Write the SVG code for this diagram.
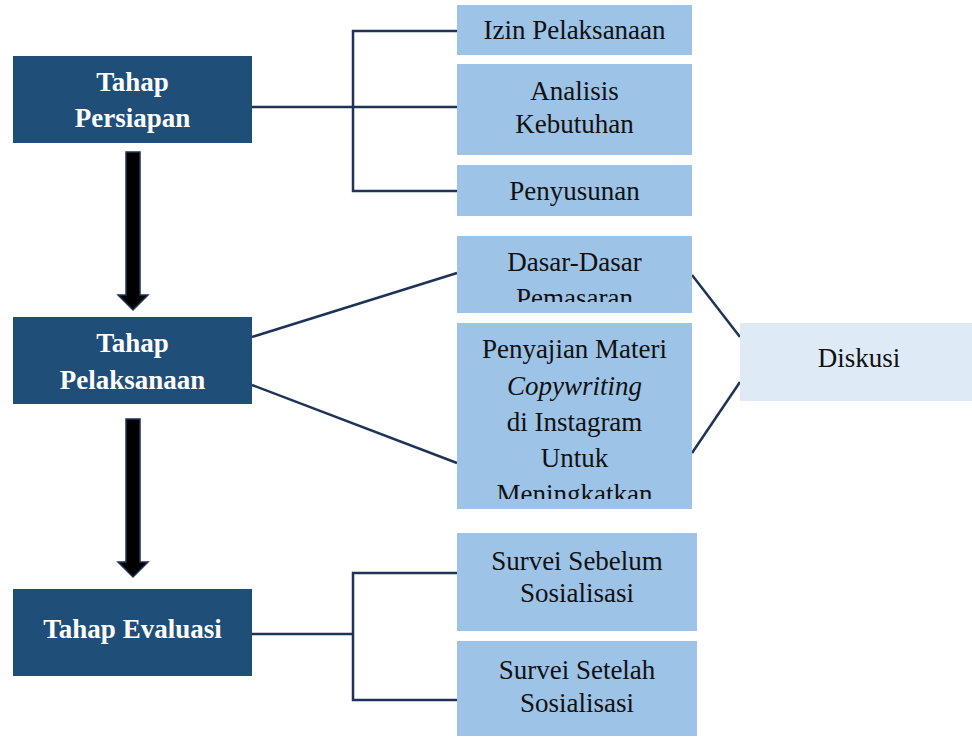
<svg xmlns="http://www.w3.org/2000/svg" width="972" height="738" viewBox="0 0 972 738">
<style>
.dark{fill:#1F4E79}
.light{fill:#9DC3E6}
.pale{fill:#DEEBF7}
.tw{font-family:"Liberation Serif","Times New Roman",serif;font-size:27px;font-weight:bold;fill:#ffffff;text-anchor:middle}
.tb{font-family:"Liberation Serif","Times New Roman",serif;font-size:27px;fill:#111111;text-anchor:middle}
.ln{fill:none;stroke:#1F3356;stroke-width:2.5}
.arr{fill:#000000;stroke:#1F3356;stroke-width:1.5}
</style>
<defs>
<clipPath id="cDasar"><rect x="457" y="236" width="235" height="66"/></clipPath>
<clipPath id="cPeny"><rect x="457" y="323" width="235" height="176"/></clipPath>
</defs>
<rect width="972" height="738" fill="#ffffff"/>
<g id="connectors">
<polyline class="ln" points="252,107 457,107"/>
<polyline class="ln" points="457,31 353,31 353,191 457,191"/>
<line class="ln" x1="252" y1="337" x2="457" y2="273"/>
<line class="ln" x1="252" y1="385" x2="457" y2="463"/>
<line class="ln" x1="692" y1="275" x2="740" y2="337"/>
<line class="ln" x1="692" y1="453" x2="740" y2="382"/>
<polyline class="ln" points="252,634 353,634"/>
<polyline class="ln" points="457,573 353,573 353,700 457,700"/>
<polygon class="arr" points="126,152 140,152 140,295 148,295 133,310 118,295 126,295"/>
<polygon class="arr" points="126,419 140,419 140,562 148,562 133,577 118,562 126,562"/>
</g>
<g id="tahap-persiapan">
<rect class="dark" x="13" y="56" width="239" height="87"/>
<text class="tw" x="132.5" y="91">Tahap</text>
<text class="tw" x="132.5" y="127">Persiapan</text>
</g>
<g id="tahap-pelaksanaan">
<rect class="dark" x="13" y="317" width="239" height="87"/>
<text class="tw" x="132.5" y="352">Tahap</text>
<text class="tw" x="132.5" y="389">Pelaksanaan</text>
</g>
<g id="tahap-evaluasi">
<rect class="dark" x="13" y="589" width="239" height="87"/>
<text class="tw" x="132.5" y="638">Tahap Evaluasi</text>
</g>
<g id="izin">
<rect class="light" x="457" y="5" width="235" height="50"/>
<text class="tb" x="574.5" y="39">Izin Pelaksanaan</text>
</g>
<g id="analisis">
<rect class="light" x="457" y="64" width="235" height="91"/>
<text class="tb" x="574.5" y="100">Analisis</text>
<text class="tb" x="574.5" y="133">Kebutuhan</text>
</g>
<g id="penyusunan">
<rect class="light" x="457" y="165" width="235" height="51"/>
<text class="tb" x="574.5" y="200">Penyusunan</text>
</g>
<g id="dasar">
<rect class="light" x="457" y="236" width="235" height="77"/>
<g clip-path="url(#cDasar)">
<text class="tb" x="574.5" y="271">Dasar-Dasar</text>
<text class="tb" x="574.5" y="307">Pemasaran</text>
</g>
</g>
<g id="penyajian">
<rect class="light" x="457" y="323" width="235" height="186"/>
<g clip-path="url(#cPeny)">
<text class="tb" x="574.5" y="358">Penyajian Materi</text>
<text class="tb" x="574.5" y="395" font-style="italic">Copywriting</text>
<text class="tb" x="574.5" y="431">di Instagram</text>
<text class="tb" x="574.5" y="467">Untuk</text>
<text class="tb" x="574.5" y="503">Meningkatkan</text>
</g>
</g>
<g id="diskusi">
<rect class="pale" x="740" y="323" width="232" height="78"/>
<text class="tb" x="859" y="367">Diskusi</text>
</g>
<g id="survei-sebelum">
<rect class="light" x="457" y="533" width="240" height="98"/>
<text class="tb" x="577" y="570">Survei Sebelum</text>
<text class="tb" x="577" y="602">Sosialisasi</text>
</g>
<g id="survei-setelah">
<rect class="light" x="457" y="641" width="240" height="95"/>
<text class="tb" x="577" y="679">Survei Setelah</text>
<text class="tb" x="577" y="712">Sosialisasi</text>
</g>
</svg>
